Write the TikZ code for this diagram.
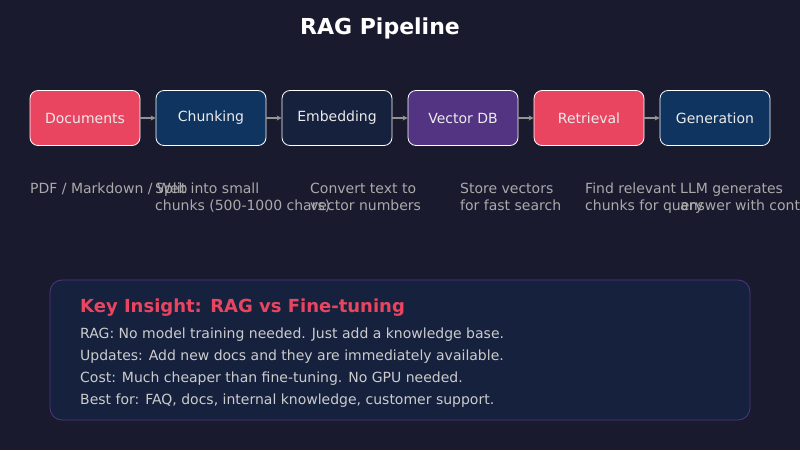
\documentclass[tikz,border=0pt]{standalone}
\usepackage{fontspec}
\setmainfont{DejaVu Sans}
\usetikzlibrary{arrows.meta}
\definecolor{bgdark}{HTML}{1A1A2E}
\definecolor{ragred}{HTML}{E94560}
\definecolor{ragblue}{HTML}{0F3460}
\definecolor{ragnavy}{HTML}{16213E}
\definecolor{ragpurple}{HTML}{533483}
\definecolor{descgray}{HTML}{AAAAAA}
\definecolor{notegray}{HTML}{CCCCCC}

\begin{document}
\begin{tikzpicture}[x=1pt,y=-1pt,
  stage/.style={draw=white,line width=.8pt,rounded corners=8pt,minimum width=110pt,
    minimum height=55pt,inner sep=0pt,text=white!92!black,font=\fontsize{14}{16}\selectfont},
  flow/.style={draw=gray!85,line width=1.2pt,-{Stealth[length=5pt,width=5pt]}},
  desc/.style={anchor=base west,inner sep=0pt,align=left,text=descgray,
    font=\fontsize{14}{17}\selectfont}]
\fill[bgdark] (0,0) rectangle (800,450);
\clip (0,0) rectangle (800,450);

\node (title) at (380,28) [text=white,font=\fontsize{22}{26}\selectfont\bfseries] {RAG Pipeline};

% pipeline stages
\node (docs)  at (85,118)  [stage,fill=ragred]    {Documents};
\node (chunk) at (211,118) [stage,fill=ragblue]   {Chunking};
\node (embed) at (337,118) [stage,fill=ragnavy]   {Embedding};
\node (vecdb) at (463,118) [stage,fill=ragpurple] {Vector DB};
\node (retr)  at (589,118) [stage,fill=ragred]    {Retrieval};
\node (gen)   at (715,118) [stage,fill=ragblue]   {Generation};

\draw[flow] (docs) -- (chunk);
\draw[flow] (chunk) -- (embed);
\draw[flow] (embed) -- (vecdb);
\draw[flow] (vecdb) -- (retr);
\draw[flow] (retr) -- (gen);

% descriptions (base = last line)
\node (docsText)  at (30,193)  [desc] {PDF / Markdown / Web};
\node (chunkText) at (155,210) [desc] {Split into small\\chunks (500-1000 chars)};
\node (embedText) at (310,210) [desc] {Convert text to\\vector numbers};
\node (vecdbText) at (460,210) [desc] {Store vectors\\for fast search};
\node (retrText)  at (585,210) [desc] {Find relevant\\chunks for query};
\node (genText)   at (680,210) [desc] {LLM generates\\answer with context};

% insight panel
\node (panel) at (400,350) [draw=ragpurple,fill=ragnavy,line width=.8pt,rounded corners=12pt,
  minimum width=700pt,minimum height=140pt] {};
\node (keyTitle) at (80,312.5) [anchor=base west,inner sep=0pt,text=ragred,
  font=\fontsize{18}{21}\selectfont\bfseries] {Key Insight: RAG vs Fine-tuning};
\node (keyText) at (80,404) [anchor=base west,inner sep=0pt,align=left,text=notegray,
  font=\fontsize{14}{22}\selectfont]
  {RAG: No model training needed. Just add a knowledge base.\\
   Updates: Add new docs and they are immediately available.\\
   Cost: Much cheaper than fine-tuning. No GPU needed.\\
   Best for: FAQ, docs, internal knowledge, customer support.};
\end{tikzpicture}
\end{document}
